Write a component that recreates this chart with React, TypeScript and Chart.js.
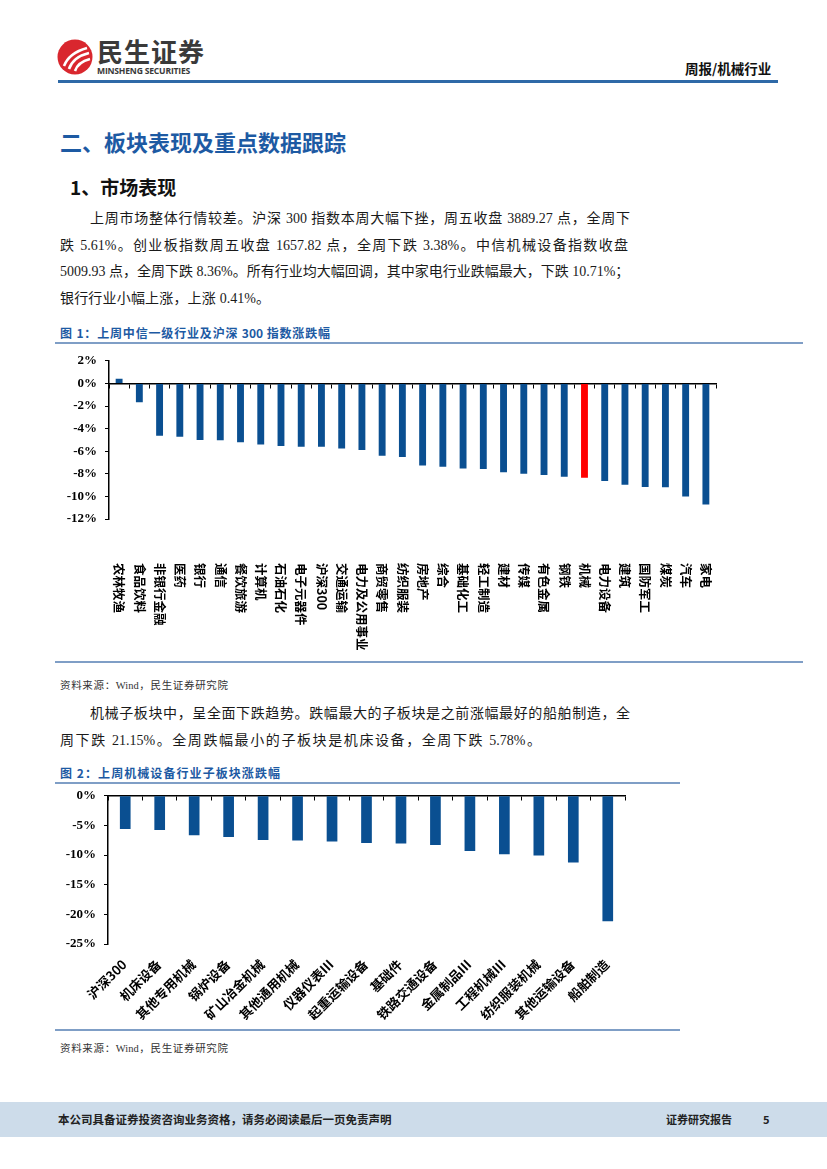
import React, { useEffect, useRef } from 'react';
import { Chart, registerables } from 'chart.js';

Chart.register(...registerables);

// ---------- Data ----------
const industries = [
  '农林牧渔', '食品饮料', '非银行金融', '医药', '银行', '通信', '餐饮旅游', '计算机', '石油石化', '电子元器件',
  '沪深300', '交通运输', '电力及公用事业', '商贸零售', '纺织服装', '房地产', '综合', '基础化工', '轻工制造', '建材',
  '传媒', '有色金属', '钢铁', '机械', '电力设备', '建筑', '国防军工', '煤炭', '汽车', '家电',
];
const industryChanges = [
  0.41, -1.66, -4.64, -4.72, -5.01, -5.04, -5.2, -5.4, -5.55, -5.6,
  -5.61, -5.76, -5.9, -6.4, -6.52, -7.27, -7.38, -7.52, -7.57, -7.86,
  -8.0, -8.1, -8.25, -8.36, -8.63, -8.96, -9.16, -9.2, -10.0, -10.71,
];
const highlightIndustry = '机械';
const yTicks1 = [2, 0, -2, -4, -6, -8, -10, -12];

const subSectors = [
  '沪深300', '机床设备', '其他专用机械', '锅炉设备', '矿山冶金机械', '其他通用机械', '仪器仪表III', '起重运输设备',
  '基础件', '铁路交通设备', '金属制品III', '工程机械III', '纺织服装机械', '其他运输设备', '船舶制造',
];
const subChanges = [
  -5.61, -5.78, -6.64, -6.97, -7.47, -7.52, -7.69, -7.97,
  -8.04, -8.31, -9.32, -9.88, -10.05, -11.27, -21.15,
];
const yTicks2 = [0, -5, -10, -15, -20, -25];

// ---------- Styles ----------
const BLUE = '#0a4f91';
const RED = '#ff0000';
const LINE = '#7f9ec6';
const CJK = '"Noto Sans CJK SC", sans-serif';
const SERIF = '"Liberation Serif", "Noto Sans CJK SC", serif';

const categoryLabelPlugin = {
  id: 'catLabels',
  afterDraw(chart: any, _args: any, opts: any) {
    const { ctx, chartArea } = chart;
    const xs = chart.scales.x;
    const labels = chart.data.labels as string[];
    ctx.save();
    ctx.font = opts.font;
    ctx.fillStyle = opts.color || '#000';
    labels.forEach((lab, i) => {
      const x = xs.getPixelForValue(i) + (opts.dx || 0);
      ctx.save();
      ctx.translate(x, chartArea.bottom + opts.dy);
      ctx.rotate(opts.angle);
      ctx.textAlign = opts.align;
      ctx.textBaseline = 'middle';
      ctx.fillText(lab, 0, 0);
      ctx.restore();
    });
    ctx.restore();
  },
};

function makeOptions(ticks: number[], axisWidth: number, padding: any, labelOpts: any) {
  return {
    responsive: false,
    animation: false as const,
    layout: { padding },
    plugins: {
      legend: { display: false },
      tooltip: { enabled: false },
      catLabels: labelOpts,
    },
    scales: {
      x: {
        position: { y: 0 },
        offset: true,
        ticks: { display: false },
        grid: { offset: true, drawOnChartArea: false, drawTicks: true, tickLength: 4, color: '#000', lineWidth: 1 },
        border: { color: '#000', width: 1.5 },
      },
      y: {
        min: Math.min(...ticks),
        max: Math.max(...ticks),
        afterBuildTicks: (s: any) => {
          s.ticks = ticks.map((v) => ({ value: v }));
        },
        afterFit: (s: any) => {
          s.width = axisWidth;
        },
        ticks: {
          callback: (v: any) => v + '%',
          color: '#000',
          padding: 8,
          font: { family: '"Liberation Serif", serif', weight: 'bold' as const, size: 13 },
        },
        grid: { drawOnChartArea: false, drawTicks: true, tickLength: 4, color: '#000', lineWidth: 1 },
        border: { color: '#000', width: 1.5 },
      },
    },
  };
}

function IndustryChart() {
  const ref = useRef<HTMLCanvasElement>(null);
  useEffect(() => {
    const chart = new Chart(ref.current!, {
      type: 'bar',
      data: {
        labels: industries,
        datasets: [
          {
            data: industryChanges,
            backgroundColor: industries.map((c) => (c === highlightIndustry ? RED : BLUE)),
            barPercentage: 0.34,
            categoryPercentage: 1,
          },
        ],
      },
      options: makeOptions(yTicks1, 59, { top: 3, right: 14, bottom: 131, left: 0 }, {
        font: `bold 12.5px ${CJK}`,
        angle: Math.PI / 2,
        align: 'left',
        dx: 0,
        dy: 44,
      }) as any,
      plugins: [categoryLabelPlugin],
    });
    return () => chart.destroy();
  }, []);
  return (
    <canvas ref={ref} width={680} height={305}
      style={{ position: 'absolute', left: 50, top: 345, width: 680, height: 305 }} />
  );
}

function SubSectorChart() {
  const ref = useRef<HTMLCanvasElement>(null);
  useEffect(() => {
    const chart = new Chart(ref.current!, {
      type: 'bar',
      data: {
        labels: subSectors,
        datasets: [
          {
            data: subChanges,
            backgroundColor: BLUE,
            barPercentage: 0.31,
            categoryPercentage: 1,
          },
        ],
      },
      options: makeOptions(yTicks2, 58, { top: 4, right: 15, bottom: 76, left: 0 }, {
        font: `bold 13px ${CJK}`,
        angle: -Math.PI / 4,
        align: 'right',
        dx: -1,
        dy: 18,
      }) as any,
      plugins: [categoryLabelPlugin],
    });
    return () => chart.destroy();
  }, []);
  return (
    <canvas ref={ref} width={590} height={240}
      style={{ position: 'absolute', left: 50, top: 780, width: 590, height: 240 }} />
  );
}

function T(props: {
  x: number; y: number; size: number; children: React.ReactNode; w?: number; bold?: boolean;
  color?: string; family?: string; justify?: boolean; ls?: number;
}) {
  const { x, y, size, children, w, bold, color, family, justify, ls } = props;
  return (
    <div
      style={{
        position: 'absolute', left: x, top: y, transform: 'translateY(-50%)',
        fontSize: size, lineHeight: 1.2, whiteSpace: 'nowrap', width: w,
        fontWeight: bold ? 'bold' : 'normal', color: color || '#1a1a1a',
        fontFamily: family || SERIF, textAlign: justify ? 'justify' : 'left',
        textAlignLast: justify ? 'justify' : 'auto', letterSpacing: ls,
      } as React.CSSProperties}
    >
      {children}
    </div>
  );
}

function HLine(props: { x: number; y: number; w: number; h: number; color: string }) {
  return <div style={{ position: 'absolute', left: props.x, top: props.y, width: props.w, height: props.h, background: props.color }} />;
}

export default function App() {
  return (
    <div style={{ position: 'absolute', left: 0, top: 0, width: 827, height: 1169, background: '#fff', overflow: 'hidden' }}>
      {/* header */}
      <svg style={{ position: 'absolute', left: 57, top: 39 }} width={36} height={36} viewBox="0 0 36 36">
        <circle cx="18" cy="18" r="17.5" fill="#d9272e" />
        <path d="M7 27 Q12 14 30 9" stroke="#fff" strokeWidth="2.6" fill="none" />
        <path d="M12 30 Q16 18 32 14" stroke="#fff" strokeWidth="2.6" fill="none" />
        <path d="M18 32 Q21 23 33 20" stroke="#fff" strokeWidth="2.6" fill="none" />
      </svg>
      <T x={97} y={51} size={26} bold color="#3a3a3a" family={CJK} ls={1}>民生证券</T>
      <T x={97} y={71} size={8.6} bold color="#3a3a3a" family='"Open Sans", sans-serif' ls={-0.2}>MINSHENG SECURITIES</T>
      <T x={685} y={68} size={13.5} bold color="#111" family={CJK}>周报/机械行业</T>
      <HLine x={58} y={80} w={720} h={2.5} color="#2e69a7" />

      {/* section headings */}
      <T x={60} y={141} size={22} bold color="#1d5aa3" family={CJK}>二、板块表现及重点数据跟踪</T>
      <T x={70} y={187} size={19} bold color="#111" family={CJK}>1、市场表现</T>

      {/* paragraph 1 */}
      <T x={90} y={219} size={14} w={540} justify>上周市场整体行情较差。沪深 300 指数本周大幅下挫，周五收盘 3889.27 点，全周下</T>
      <T x={60} y={246} size={14} w={568} justify>跌 5.61%。创业板指数周五收盘 1657.82 点，全周下跌 3.38%。中信机械设备指数收盘</T>
      <T x={60} y={272} size={14} w={566} justify>5009.93 点，全周下跌 8.36%。所有行业均大幅回调，其中家电行业跌幅最大，下跌 10.71%；</T>
      <T x={60} y={299} size={14} w={210} justify>银行行业小幅上涨，上涨 0.41%。</T>

      {/* figure 1 */}
      <T x={60} y={333} size={12} w={270} bold color="#1d5aa3" family={CJK} justify>图 1：上周中信一级行业及沪深 300 指数涨跌幅</T>
      <HLine x={55} y={342} w={748} h={2} color={LINE} />
      <IndustryChart />
      <HLine x={55} y={661} w={748} h={1.5} color={LINE} />
      <T x={60} y={686} size={10.5} w={168} color="#333" justify>资料来源：Wind，民生证券研究院</T>

      {/* paragraph 2 */}
      <T x={90} y={714} size={14} w={540} justify>机械子板块中，呈全面下跌趋势。跌幅最大的子板块是之前涨幅最好的船舶制造，全</T>
      <T x={60} y={741} size={14} w={481} justify>周下跌 21.15%。全周跌幅最小的子板块是机床设备，全周下跌 5.78%。</T>

      {/* figure 2 */}
      <T x={60} y={773} size={12} w={220} bold color="#1d5aa3" family={CJK} justify>图 2：上周机械设备行业子板块涨跌幅</T>
      <HLine x={55} y={782} w={625} h={2} color={LINE} />
      <SubSectorChart />
      <HLine x={55} y={1029} w={625} h={1.5} color={LINE} />
      <T x={60} y={1049} size={10.5} w={168} color="#333" justify>资料来源：Wind，民生证券研究院</T>

      {/* footer */}
      <div style={{ position: 'absolute', left: 0, top: 1102, width: 827, height: 35, background: '#cddcea' }} />
      <T x={58} y={1120} size={11.5} w={326} bold color="#222" family={CJK} justify>本公司具备证券投资咨询业务资格，请务必阅读最后一页免责声明</T>
      <T x={666} y={1120} size={11} bold color="#222" family={CJK}>证券研究报告</T>
      <T x={763} y={1120} size={11} bold color="#222" family={CJK}>5</T>
    </div>
  );
}
